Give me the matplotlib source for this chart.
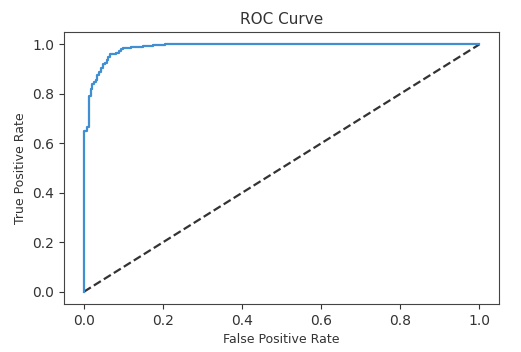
import numpy as np
import matplotlib.pyplot as plt

# ROC points (step curve)
fpr = [0.0, 0.0, 0.008, 0.008, 0.012, 0.012, 0.014, 0.014, 0.017, 0.017, 0.020, 0.020,
       0.026, 0.026, 0.031, 0.031, 0.034, 0.034, 0.038, 0.038, 0.043, 0.043, 0.048, 0.048,
       0.053, 0.053, 0.058, 0.058, 0.061, 0.061, 0.066, 0.066, 0.082, 0.082, 0.088, 0.088,
       0.094, 0.094, 0.100, 0.100, 0.120, 0.120, 0.150, 0.150, 0.175, 0.175, 0.205, 0.205, 1.0]
tpr = [0.0, 0.648, 0.648, 0.665, 0.665, 0.69, 0.69, 0.79, 0.79, 0.82, 0.82, 0.84,
       0.84, 0.848, 0.848, 0.858, 0.858, 0.875, 0.875, 0.89, 0.89, 0.905, 0.905, 0.92,
       0.92, 0.926, 0.926, 0.935, 0.935, 0.95, 0.95, 0.962, 0.962, 0.966, 0.966, 0.972,
       0.972, 0.98, 0.98, 0.986, 0.986, 0.99, 0.99, 0.994, 0.994, 0.997, 0.997, 1.0, 1.0]
chance = [0.0, 1.0]

fig = plt.figure(figsize=(5.21, 3.52), dpi=100)
ax = fig.add_axes([0.123, 0.136, 0.835, 0.773])

ax.plot(chance, chance, '--', color='#333333', linewidth=1.6)
ax.plot(fpr, tpr, color='#3f8fd2', linewidth=1.6)

ax.set_xlim(-0.05, 1.05)
ax.set_ylim(-0.05, 1.05)
ax.set_xticks([0.0, 0.2, 0.4, 0.6, 0.8, 1.0])
ax.set_yticks([0.0, 0.2, 0.4, 0.6, 0.8, 1.0])
ax.tick_params(labelsize=10, colors='#333333')
for s in ax.spines.values():
    s.set_color('#444444')

ax.set_xlabel('False Positive Rate', fontsize=9, color='#333333')
ax.set_ylabel('True Positive Rate', fontsize=9, color='#333333')
ax.set_title('ROC Curve', fontsize=11, color='#333333')

plt.savefig('out.png', dpi=100)
